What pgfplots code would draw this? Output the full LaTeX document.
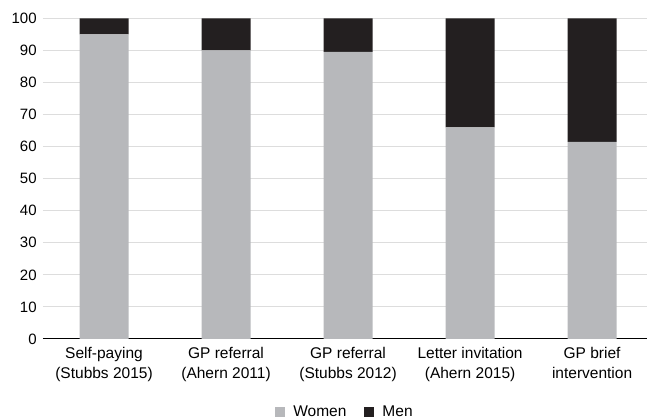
\documentclass[border=0pt]{standalone}
\usepackage{fontspec}
\setmainfont{Liberation Sans}
\usepackage{pgfplots}
\pgfplotsset{compat=1.18}
\definecolor{women}{RGB}{183,184,187}
\definecolor{men}{RGB}{35,31,32}
\definecolor{gridc}{RGB}{221,221,221}

\begin{document}
\fontsize{15.5}{20}\selectfont
\begin{tikzpicture}
\begin{axis}[
    scale only axis,
    width=604pt, height=320.7pt,
    ybar stacked, bar width=49pt,
    xmin=-0.5, xmax=4.45,
    ymin=0, ymax=100,
    ytick={0,10,...,100},
    xtick={0,...,4},
    xticklabels={{Self-paying\\(Stubbs 2015)},{GP referral\\(Ahern 2011)},{GP referral\\(Stubbs 2012)},{Letter invitation\\(Ahern 2015)},{GP brief\\intervention}},
    xticklabel style={align=center, font=\fontsize{15.5}{20}\selectfont, yshift=-3pt},
    yticklabel style={font=\fontsize{15}{20}\selectfont, xshift=-1pt},
    /pgf/number format/assume math mode=true,
    major tick length=0pt,
    axis x line*=bottom, axis y line*=left,
    x axis line style={-, black, line width=1pt},
    y axis line style={draw=none},
    ymajorgrids, grid style={gridc, line width=1pt},
    legend style={at={(0.5,-0.228)}, anchor=center, draw=none, legend columns=2,
        font=\fontsize{15.5}{20}\selectfont,
        /tikz/every even column/.append style={column sep=16pt}},
    legend image code/.code={\fill[#1] (0pt,-5pt) rectangle (10pt,5pt); \path (16pt,0pt);},
]
\addplot[fill=women, draw=none] coordinates {(0,95) (1,90) (2,89.5) (3,66) (4,61.5)};
\addplot[fill=men, draw=none] coordinates {(0,5) (1,10) (2,10.5) (3,34) (4,38.5)};
\legend{Women, Men}
\end{axis}
\pgfresetboundingbox
\path[use as bounding box] ([xshift=-43pt,yshift=-80pt]current axis.south west) rectangle ++(647pt,419pt);
\end{tikzpicture}
\end{document}
